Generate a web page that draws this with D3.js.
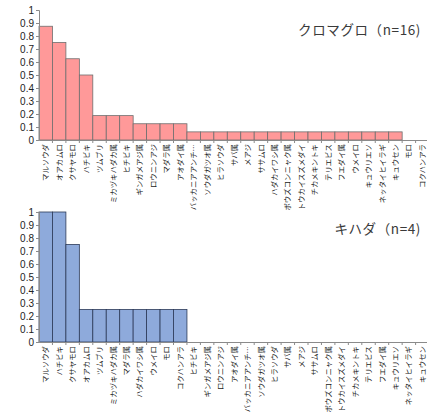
<!DOCTYPE html>
<html>
<head>
<meta charset="utf-8">
<script src="https://cdn.jsdelivr.net/npm/d3@7"></script>
<style>
  body { margin: 0; background: #fff; }
  svg { display: block; }
</style>
</head>
<body>
<svg width="427" height="415"></svg>
<script>
var svg = d3.select("svg");

// クロマグロ (n=16)
var topNames = ["マルソウダ", "オアカムロ", "クサヤモロ", "ハチビキ", "ツムブリ", "ミカヅキハダカ属", "ヒチビキ",
  "ギンガメアジ属", "ロウニンアジ", "マダラ属", "アオダイ属", "バッカニアアンチ…", "ソウダガツオ属", "ヒラソウダ",
  "サバ属", "メアジ", "ササムロ", "ハダカイワシ属", "ボウズコンニャク属", "トウカイスズメダイ", "チカメキントキ",
  "テリエビス", "フエダイ属", "ウメイロ", "キュウリエソ", "ネッタイヒイラギ", "キュウセン", "モロ", "コクハンアラ"];
var topValues = [0.875, 0.75, 0.625, 0.5, 0.1875, 0.1875, 0.1875,
  0.125, 0.125, 0.125, 0.125, 0.0625, 0.0625, 0.0625,
  0.0625, 0.0625, 0.0625, 0.0625, 0.0625, 0.0625, 0.0625,
  0.0625, 0.0625, 0.0625, 0.0625, 0.0625, 0.0625, 0, 0];

// キハダ (n=4)
var bottomNames = ["マルソウダ", "ハチビキ", "クサヤモロ", "オアカムロ", "ツムブリ", "ミカヅキハダカ属", "マダラ属",
  "ハダカイワシ属", "ウメイロ", "モロ", "コクハンアラ", "ヒチビキ", "ギンガメアジ属", "ロウニンアジ",
  "アオダイ属", "バッカニアアンチ…", "ソウダガツオ属", "ヒラソウダ", "サバ属", "メアジ", "ササムロ",
  "ボウズコンニャク属", "トウカイスズメダイ", "チカメキントキ", "テリエビス", "フエダイ属", "キュウリエソ",
  "ネッタイヒイラギ", "キュウセン"];
var bottomValues = [1, 1, 0.75, 0.25, 0.25, 0.25, 0.25,
  0.25, 0.25, 0.25, 0.25, 0, 0, 0,
  0, 0, 0, 0, 0, 0, 0,
  0, 0, 0, 0, 0, 0,
  0, 0];

var yTicks = [0, 0.1, 0.2, 0.3, 0.4, 0.5, 0.6, 0.7, 0.8, 0.9, 1];

var left = 39;
var step = 13.45;

function drawPanel(names, values, y0, y1, fill, stroke, title, titleY) {
  var data = names.map(function(n, i) { return {name: n, value: values[i]}; });

  var x = d3.scaleBand().domain(names).range([left, left + names.length * step]).padding(0);
  var y = d3.scaleLinear().domain([0, 1]).range([y0, y1]);

  var g = svg.append("g");

  g.selectAll("rect")
    .data(data.filter(function(d) { return d.value > 0; }))
    .enter().append("rect")
    .attr("x", function(d) { return x(d.name); })
    .attr("y", function(d) { return y(d.value); })
    .attr("width", x.bandwidth())
    .attr("height", function(d) { return y0 - y(d.value); })
    .attr("fill", fill)
    .attr("stroke", stroke)
    .attr("stroke-width", 0.8);

  // y axis
  var ya = g.append("g")
    .attr("transform", "translate(" + left + ",0)")
    .call(d3.axisLeft(y).tickValues(yTicks).tickSize(3).tickFormat(d3.format("~g")));
  ya.select(".domain").attr("stroke", "#8a8a8a");
  ya.selectAll(".tick line").attr("stroke", "#8a8a8a");
  ya.selectAll(".tick text")
    .attr("font-family", "Liberation Sans, Arial, sans-serif")
    .attr("font-size", 10)
    .attr("fill", "#222")
    .attr("x", -5);

  // x axis
  var xa = g.append("g")
    .attr("transform", "translate(0," + y0 + ")")
    .call(d3.axisBottom(x).tickSize(0).tickSizeOuter(0));
  xa.select(".domain").attr("stroke", "#8a8a8a");
  xa.selectAll(".tick text")
    .attr("font-family", "Noto Sans CJK JP, sans-serif")
    .attr("font-size", 7.4)
    .attr("fill", "#222")
    .attr("text-anchor", "end")
    .attr("transform", "rotate(-90)")
    .attr("x", -4)
    .attr("y", 0)
    .attr("dy", "0.35em");

  // separators between categories
  g.selectAll(".sep")
    .data(names)
    .enter().append("line")
    .attr("class", "sep")
    .attr("x1", function(d) { return x(d) + x.bandwidth(); })
    .attr("x2", function(d) { return x(d) + x.bandwidth(); })
    .attr("y1", y0)
    .attr("y2", y0 + 3)
    .attr("stroke", "#8a8a8a");

  g.append("text")
    .attr("x", 421)
    .attr("y", titleY)
    .attr("text-anchor", "end")
    .attr("font-family", "Noto Sans CJK JP, sans-serif")
    .attr("font-size", 13.5)
    .attr("letter-spacing", 0.6)
    .attr("fill", "#3a3a3a")
    .text(title);
}

drawPanel(topNames, topValues, 140, 10, "#ff9999", "#6e6e6e", "クロマグロ（n=16)", 35);
drawPanel(bottomNames, bottomValues, 342, 212, "#8eaadb", "#2c3a58", "キハダ（n=4)", 234);
</script>
</body>
</html>
